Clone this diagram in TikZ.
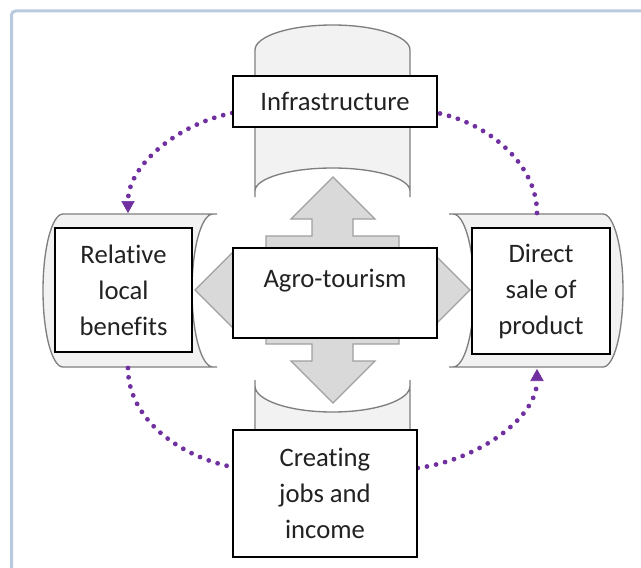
\documentclass[tikz,border=0pt]{standalone}
\usepackage{fontspec}
\setmainfont{Carlito}[RawFeature={-liga;-clig;-dlig}]
\usetikzlibrary{arrows.meta,calc}
\definecolor{purp}{HTML}{7030A0}
\definecolor{cylfill}{HTML}{F2F2F2}
\definecolor{cyldraw}{HTML}{7F7F7F}
\definecolor{arrfill}{HTML}{D9D9D9}
\definecolor{arrdraw}{HTML}{A0A0A0}
\definecolor{framecol}{HTML}{B8CADD}
\definecolor{txt}{HTML}{222222}
\pgfdeclarelayer{back}
\pgfdeclarelayer{mid}
\pgfsetlayers{back,mid,main}
\begin{document}
\begin{tikzpicture}[x=0.75pt,y=-0.75pt,
  box/.style={draw=black,line width=1.1pt,fill=white,align=center,inner sep=0pt,
    text=txt,font=\fontsize{20}{27}\selectfont},
  lbl/.style={text=txt,inner sep=0pt,font=\fontsize{20}{27}\selectfont},
  cyl/.style={fill=cylfill,draw=cyldraw,line width=1pt},
  hub/.style={fill=arrfill,draw=arrdraw,line width=0.9pt,line join=miter},
  dotline/.style={draw=purp,line width=3.6pt,line cap=round,dash pattern=on 0pt off 7pt},
  tipped/.style={-{Triangle[width=10pt,length=9pt,line width=0.4pt]}}]
\useasboundingbox (0,0) rectangle (641,567);

% boxes
\node[box,minimum width=153pt,minimum height=38.25pt] (infra) at (335,101.5) {Infrastructure};
\node[box,minimum width=102.75pt,minimum height=93pt] (rel) at (123.5,290) {Relative\\local\\benefits};
\node[box,minimum width=103.5pt,minimum height=94.5pt] (direct) at (541,291) {Direct\\sale of\\product};
\node[box,minimum width=153pt,minimum height=67.5pt] (agro) at (335,293) {};
\node[lbl] (agrotext) at (335,281) {Agro-tourism};
\node[box,minimum width=138pt,minimum height=95.25pt] (jobs) at (325,493.5) {Creating\\jobs and\\income};

\coordinate (ltop) at (128,213);
\coordinate (lbot) at (128,368);
\coordinate (rtop) at (537,213);
\coordinate (rbot) at (537,369);

\begin{pgfonlayer}{back}
\fill[white] (0,0) rectangle (641,567);
\draw[framecol,line width=2.25pt,rounded corners=3pt] (11.5,620) -- (11.5,11) -- (700,11);
% top cylinder
\path[cyl] (255,197) -- (255,50) arc[start angle=180,end angle=360,x radius=77.5,y radius=25]
  -- (410,197) -- (410,191) arc[start angle=0,end angle=-180,x radius=77.5,y radius=23] -- cycle;
% bottom cylinder
\path[cyl] (255,380) -- (255,520) -- (410,520) -- (410,380) -- (410,386)
  arc[start angle=0,end angle=180,x radius=77.5,y radius=26] -- cycle;
% left cylinder
\path[cyl] (217,214) -- (63,214) arc[start angle=270,end angle=90,x radius=20,y radius=76.5]
  -- (217,367) -- (213,367) arc[start angle=90,end angle=270,x radius=21,y radius=76.5] -- cycle;
% right cylinder
\path[cyl] (449,214) -- (603,214) arc[start angle=-90,end angle=90,x radius=20,y radius=76.5]
  -- (449,367) -- (453,367) arc[start angle=90,end angle=-90,x radius=21,y radius=76.5] -- cycle;
% central four-way arrow
\path[hub] (333,177) -- (375,219) -- (353,219) -- (353,236) -- (399,236) -- (399,270)
  -- (428,270) -- (428,248) -- (470,290) -- (428,332) -- (428,311) -- (399,311)
  -- (399,344) -- (353,344) -- (353,361) -- (375,361) -- (333,403) -- (291,361)
  -- (312,361) -- (312,344) -- (266,344) -- (266,311) -- (237,311) -- (237,332)
  -- (195,290) -- (237,248) -- (237,270) -- (266,270) -- (266,236) -- (312,236)
  -- (312,219) -- (291,219) -- cycle;
\end{pgfonlayer}

\begin{pgfonlayer}{mid}
\draw[dotline,tipped] ($(infra.west)+(0,11.5)$) .. controls (178,124) and (128,165) .. (ltop);
\draw[dotline] (rtop) .. controls (537,165) and (490,124) .. ($(infra.east)+(0,11.5)$);
\draw[dotline] (lbot) .. controls (128,418) and (178,456) .. ($(jobs.west)+(0,-26.5)$);
\draw[dotline,tipped] ($(jobs.east)+(0,-25.5)$) .. controls (478,460) and (537,418) .. (rbot);
\end{pgfonlayer}
\end{tikzpicture}
\end{document}
